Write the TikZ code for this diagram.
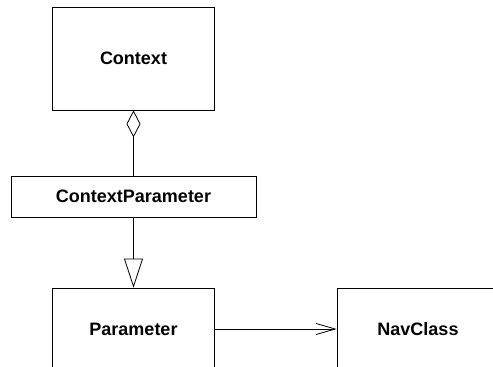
\documentclass[tikz,border=0pt]{standalone}
\usepackage{fontspec}
\setmainfont{Liberation Sans}
\usetikzlibrary{arrows.meta}
\usetikzlibrary{positioning}

\begin{document}
\begin{tikzpicture}[x=1pt, y=-1pt, line width=0.8pt,
    classe/.style={draw, fill=white, font=\fontsize{18}{21}\selectfont\bfseries,
                   minimum width=162pt, inner sep=0pt},
    agrega/.style={{Diamond[open, length=27pt, width=14pt]}-},
    heranca/.style={-{Triangle[open, length=29pt, width=19pt]}},
    navega/.style={-{Straight Barb[length=19pt, width=11pt]}}]

    % area visivel
    \useasboundingbox (0,0) rectangle (493,367);
    \clip (0,0) rectangle (493,367);

    % classes
    \node[classe, minimum height=103pt] (context) at (133.5,58.5) {Context};
    \node[classe, minimum width=245pt, minimum height=41pt] (cparam) at (133.5,196.5) {ContextParameter};
    \node[classe, minimum height=82pt] (parameter) at (133.5,329) {Parameter};
    \node[classe, minimum width=180pt, minimum height=82pt, text width=162pt, align=center] (navclass) at (427,329) {\hspace*{-18pt}NavClass};

    % relacoes
    \draw[agrega] (context.south) -- (cparam.north);
    \draw[heranca] (cparam.south) -- (parameter.north);
    \draw[navega] (parameter.east) -- (navclass.west);

\end{tikzpicture}
\end{document}
